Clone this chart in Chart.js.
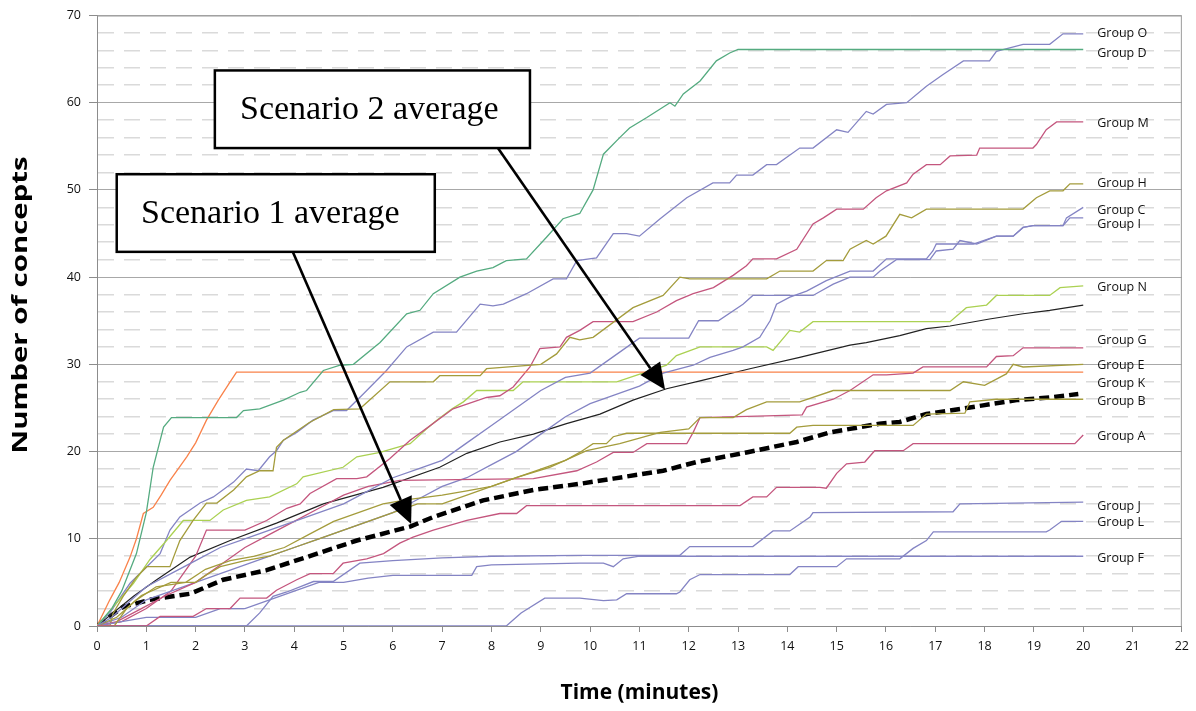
<!DOCTYPE html>
<html><head><meta charset="utf-8">
<script src="https://cdn.jsdelivr.net/npm/chart.js@4.4.1/dist/chart.umd.min.js"></script>
<style>html,body{margin:0;padding:0;background:#fff}</style>
</head><body>
<canvas id="c" width="1196" height="711" style="display:block;width:1196px;height:711px"></canvas>
<script>
// ---- data: [time (minutes), number of concepts] ----
const xTicks = [0,1,2,3,4,5,6,7,8,9,10,11,12,13,14,15,16,17,18,19,20,21,22];
const yTicks = [0,10,20,30,40,50,60,70];

const groupA = [[0,0],[1.0,0],[1.28,1.1],[1.95,1.1],[2.22,2],[2.7,2],[2.9,3.2],[3.44,3.2],[3.64,4.1],[4.05,5.3],[4.32,6],[4.79,6],[4.99,7.2],[5.47,7.7],[5.81,8.3],[6.14,9.5],[6.41,10.2],[6.82,11],[7.5,12.1],[8.17,12.9],[8.51,12.9],[8.71,13.8],[13.04,13.8],[13.3,14.8],[13.58,14.8],[13.78,15.9],[14.66,15.9],[14.79,15.8],[15.0,17.5],[15.2,18.6],[15.57,18.8],[15.77,20.1],[16.35,20.1],[16.55,20.9],[19.83,20.9],[20,21.9]];
const groupB = [[0,0],[0.35,0],[0.6,2],[0.9,3.5],[1.5,5],[2.0,5],[2.2,5.8],[2.5,6.8],[3,7.5],[3.5,8],[4,9],[4.5,10],[5,11],[5.5,12],[6,13],[6.5,14],[7,14],[7.5,15],[8,16],[8.5,17],[9,18],[9.5,19],[9.79,19.9],[10.06,20.9],[10.33,20.9],[10.47,21.7],[10.74,22.1],[14.05,22.1],[14.19,22.8],[14.52,23],[16.55,23],[16.82,24.3],[17.6,24.4],[17.7,25.7],[18.24,26],[20,26]];
const groupC = [[0,0],[0.3,1],[0.7,3],[1.0,4.5],[1.5,6],[2.0,7.5],[2.5,9],[3.0,10],[3.5,11],[4.0,12],[4.5,13],[5.0,14],[5.5,15.5],[6.0,17],[6.5,18],[7.0,19],[7.5,21],[8.0,23],[8.5,25],[9.0,27],[9.5,28.5],[10,29],[10.5,31],[11.0,33],[12.0,33],[12.2,35],[12.6,35],[13.1,36.9],[13.3,37.9],[14.52,37.9],[14.93,39.2],[15.27,40],[15.74,40],[15.88,40.7],[16.21,42],[16.89,42],[17.02,43],[17.36,43.2],[17.5,44.2],[17.84,43.8],[18.24,44.7],[18.58,44.7],[18.78,45.7],[18.98,45.9],[19.59,45.9],[19.66,46.8],[20,48]];
const groupD = [[0,0],[0.3,2],[0.5,4],[0.8,8.3],[1.0,13],[1.14,18.2],[1.35,22.8],[1.51,23.9],[2.83,23.9],[2.97,24.7],[3.3,24.9],[3.78,25.9],[4.12,26.8],[4.25,27],[4.59,29.3],[4.93,29.9],[5.2,30],[5.74,32.5],[6.28,35.8],[6.55,36.2],[6.82,38.1],[7.36,40],[7.7,40.7],[8.03,41.1],[8.3,41.9],[8.71,42.1],[9.12,44.6],[9.45,46.7],[9.79,47.3],[10.06,50],[10.27,54.1],[10.6,56],[10.8,57.1],[11.15,58.3],[11.62,60],[11.72,59.6],[11.89,61],[12.23,62.5],[12.56,64.8],[12.83,65.7],[13.0,66.1],[20,66.1]];
const groupE = [[0,0],[0.4,1],[0.8,3],[1.2,4.5],[1.8,5],[2.2,6.5],[2.7,7.5],[3.2,8],[3.8,9],[4.3,10.5],[4.8,12],[5.3,13],[5.8,14],[6.3,14.5],[7,15],[7.5,15.5],[8,16],[8.5,17],[9.18,18.2],[9.93,20.1],[10.6,20.9],[11.42,22.2],[12.0,22.6],[12.23,23.9],[12.9,23.9],[13.17,24.8],[13.58,25.7],[14.25,25.7],[14.93,27],[17.3,27],[17.57,28],[18.0,27.6],[18.44,28.9],[18.58,30],[18.78,29.7],[20,30]];
const groupF = [[0,0],[0.5,0.5],[1,1],[2,1],[2.5,2],[3,2],[3.5,3],[4,4],[4.5,5],[5,5],[5.5,5.5],[6,5.8],[7.6,5.8],[7.7,6.8],[8,7],[9.79,7.2],[10.27,7.2],[10.47,6.8],[10.67,7.7],[11,8],[20,8]];
const groupG = [[0,0],[0.4,0.5],[0.9,2],[1.4,3.5],[2,5],[2.5,7],[3,9],[3.5,10.5],[4,12],[4.5,13.5],[5,15],[5.5,16],[6.14,16.7],[8.85,16.9],[9.73,17.8],[10.13,18.8],[10.47,19.9],[10.87,19.9],[11.15,20.9],[11.96,20.9],[12.09,22.2],[12.23,23.9],[13.58,24.1],[14.3,24.2],[14.39,25.1],[14.93,26],[15.27,27],[15.74,28.8],[16.01,28.8],[16.55,29],[16.75,29.7],[18.04,29.7],[18.24,30.9],[18.58,31],[18.78,31.9],[20,31.9]];
const groupH = [[0,0],[0.26,0],[0.33,1.5],[0.53,3.4],[0.8,5.6],[1.01,6.8],[1.48,6.8],[1.68,9.8],[1.95,12.1],[2.22,14.1],[2.43,14.1],[2.77,15.6],[3.03,17.1],[3.3,17.8],[3.57,17.8],[3.64,20.5],[3.78,21.3],[4.3,23.3],[4.8,24.8],[5.33,24.9],[5.94,28],[6.82,28],[6.95,28.7],[7.77,28.7],[7.9,29.5],[9.0,30],[9.32,31.2],[9.59,33.1],[9.79,32.8],[10.06,33.1],[10.87,36.5],[11.48,37.9],[11.82,40],[12.02,39.8],[13.58,39.8],[13.85,40.7],[14.52,40.7],[14.79,41.9],[15.13,41.9],[15.27,43.2],[15.6,44.2],[15.74,43.8],[16.0,44.7],[16.28,47.2],[16.52,46.8],[16.82,47.8],[18.78,47.8],[19.05,49.1],[19.32,49.9],[19.59,49.9],[19.73,50.7],[20,50.7]];
const groupI = [[0,0],[0.5,1],[1,3],[1.5,4],[2,5],[2.5,6],[3,7],[3.5,8],[4,9],[4.5,10],[5,11],[5.5,12],[6,13],[6.5,14.5],[7,16],[7.5,17],[8,18.5],[8.5,20],[9,22],[9.5,24],[10,25.5],[10.5,26.5],[11,27.5],[11.48,29],[12.09,29.9],[12.43,30.8],[12.9,31.6],[13.1,32],[13.44,33.1],[13.65,35],[13.78,36.9],[14.05,37.7],[14.39,38.4],[14.79,39.6],[15.27,40.7],[15.74,40.7],[16.01,42.1],[16.82,42.1],[16.95,43],[17.02,43.8],[17.77,43.8],[18.24,44.7],[18.58,44.7],[18.78,45.7],[18.98,45.9],[19.59,45.9],[19.73,46.8],[20,46.8]];
const groupJ = [[0,0],[3.03,0],[3.3,1.5],[3.57,3.4],[3.85,3.9],[4.39,5.1],[4.79,5.1],[5.33,7.2],[6,7.5],[7,7.8],[8,8],[9.79,8.1],[11.82,8.1],[12.02,9.1],[13.3,9.1],[13.71,10.9],[14.05,10.9],[14.46,12.5],[14.52,13],[17.36,13.1],[17.5,14],[20,14.2]];
const groupK = [[0,0],[0.26,3],[0.45,5],[0.67,7.9],[0.8,10],[0.94,12.9],[1.14,13.6],[1.3,15],[1.48,16.7],[1.82,19.4],[2.0,21],[2.22,23.6],[2.46,25.9],[2.7,28],[2.83,29.1],[20,29.1]];
const groupL = [[0,0],[8.3,0],[8.6,1.5],[9.08,3.2],[9.79,3.2],[10.27,2.9],[10.54,3],[10.74,3.7],[11.75,3.7],[11.82,3.9],[12.02,5.3],[12.23,5.9],[14.05,5.9],[14.22,6.8],[15.0,6.8],[15.2,7.7],[16.28,7.7],[16.55,8.9],[16.82,9.8],[16.96,10.8],[19.25,10.8],[19.32,11],[19.56,12],[20,12]];
const groupM = [[0,0],[0.5,0.5],[1,2],[1.5,4],[2.0,8],[2.22,11],[3.0,11],[3.44,12.1],[3.85,13.5],[4.12,14],[4.32,15.2],[4.86,16.9],[5.27,16.9],[5.47,17.1],[5.94,19.2],[6.35,21.3],[6.62,22.4],[7.22,24.9],[7.9,26.2],[8.17,26.4],[8.44,27.4],[8.78,29.7],[8.98,31.8],[9.39,32],[9.52,33.1],[9.79,33.9],[10.06,34.9],[10.87,34.9],[11.35,36],[11.75,37.3],[12.09,38.1],[12.5,38.8],[12.9,40.2],[13.17,41.3],[13.3,42.1],[13.78,42.1],[14.19,43.2],[14.52,46.1],[14.73,46.8],[15.0,47.8],[15.54,47.8],[15.8,49.1],[16.01,49.9],[16.42,50.8],[16.55,51.8],[16.82,52.9],[17.1,52.9],[17.3,53.9],[17.84,54],[17.9,54.8],[18.98,54.8],[19.05,55.2],[19.25,56.9],[19.46,57.8],[20,57.8]];
const groupN = [[0,0],[0.33,2.2],[0.74,4.9],[1.07,7.6],[1.41,9.8],[1.75,12.1],[2.29,12.1],[2.56,13.3],[3.03,14.4],[3.5,14.8],[4.05,16.3],[4.18,17.1],[4.99,18.2],[5.27,19.4],[5.74,19.9],[6.35,20.9],[6.68,22.6],[6.89,23.6],[7.2,24.9],[7.43,25.7],[7.7,27],[8.44,27],[8.64,28],[10.54,28],[11.55,29.9],[11.75,31],[12.23,32],[13.58,32],[13.71,31.6],[14.05,33.9],[14.25,33.7],[14.52,34.9],[17.3,34.9],[17.63,36.5],[18.04,36.8],[18.24,37.9],[19.32,37.9],[19.53,38.8],[20,39]];
const groupO = [[0,0],[0.26,1.5],[0.67,4.9],[1.01,6.8],[1.28,8.3],[1.48,11],[1.68,12.5],[2.09,14.1],[2.36,14.8],[2.77,16.5],[3.03,18],[3.27,17.8],[3.5,19.4],[3.64,20.1],[3.78,21.3],[4.05,22.2],[4.38,23.6],[4.79,24.7],[5.06,24.7],[5.4,26.6],[5.87,29.3],[6.28,32],[6.82,33.7],[7.29,33.7],[7.77,36.9],[8.03,36.7],[8.24,36.9],[8.71,38.1],[9.25,39.8],[9.52,39.8],[9.73,41.9],[10.13,42.2],[10.47,45],[10.74,45],[11.0,44.7],[11.42,46.7],[11.96,49.1],[12.49,50.8],[12.83,50.8],[12.97,51.7],[13.3,51.7],[13.58,52.9],[13.78,52.9],[14.25,54.8],[14.52,54.8],[15.0,56.9],[15.23,56.6],[15.6,59],[15.74,58.7],[16.01,59.8],[16.42,60],[16.82,61.9],[17.15,63.2],[17.57,64.8],[18.1,64.8],[18.24,65.9],[18.78,66.7],[19.32,66.7],[19.59,67.9],[20,67.9]];
const scenario2Avg = [[0,0],[0.74,3.4],[1.21,5.3],[1.89,7.9],[2.7,9.8],[3.64,11.8],[4.59,14],[5.8,15.9],[6.95,18.2],[7.5,19.8],[8.17,21.1],[8.85,22],[9.52,23.2],[10.2,24.3],[10.87,25.9],[11.55,27.2],[12.23,28.1],[13.24,29.5],[14.25,30.8],[15.27,32.2],[15.6,32.5],[16.28,33.3],[16.82,34.1],[17.3,34.4],[18.1,35.2],[18.78,35.8],[19.32,36.2],[20,36.8]];
const scenario1Avg = [[0,0],[0.53,2.2],[1.07,3],[1.89,3.7],[2.56,5.3],[3.44,6.4],[4.25,7.9],[5.27,9.8],[6.35,11.4],[6.82,12.5],[7.83,14.4],[8.85,15.6],[9.79,16.3],[10.47,16.9],[11.48,17.8],[12.16,18.8],[13.17,19.9],[14.19,21.1],[14.86,22.2],[15.27,22.6],[15.87,23.2],[16.28,23.4],[16.82,24.3],[17.3,24.7],[17.97,25.3],[18.65,25.9],[19.32,26.2],[19.9,26.6]];

const groupLabels = ['Group A','Group B','Group C','Group D','Group E','Group F','Group G','Group H','Group I','Group J','Group K','Group L','Group M','Group N','Group O'];
const groupSeries = [groupA,groupB,groupC,groupD,groupE,groupF,groupG,groupH,groupI,groupJ,groupK,groupL,groupM,groupN,groupO];
// label text anchor (value units) at the right end
const groupLabelAt = [21.7,25.7,47.6,65.6,29.9,7.8,32.7,50.7,46.1,13.7,27.8,11.9,57.6,38.8,68.0];

// ---- styles ----
const BLUE='#8484c4', PINK='#c4567e', OLIVE='#a49c3c', LIME='#abd152', TEAL='#55ab80', ORANGE='#f9824a';
const groupColors = [PINK,OLIVE,BLUE,TEAL,OLIVE,BLUE,PINK,OLIVE,BLUE,BLUE,ORANGE,BLUE,PINK,LIME,BLUE];

const datasets = groupSeries.map((s,i)=>({
  label: groupLabels[i],
  data: s.map(p=>({x:p[0],y:p[1]})),
  borderColor: groupColors[i], borderWidth: 1.3, pointRadius: 0, tension: 0, fill:false
}));
datasets.push({label:'Scenario 2 average', data: scenario2Avg.map(p=>({x:p[0],y:p[1]})), borderColor:'#222', borderWidth:1.2, pointRadius:0, tension:0});
datasets.push({label:'Scenario 1 average', data: scenario1Avg.map(p=>({x:p[0],y:p[1]})), borderColor:'#000', borderWidth:4.5, borderDash:[10,5], pointRadius:0, tension:0});

const annotations = {
  boxes: [
    {text:'Scenario 2 average', x0:2.39, x1:8.78, y0:63.7, y1:54.8, tx:240},
    {text:'Scenario 1 average', x0:0.40, x1:6.85, y0:51.8, y1:42.9, tx:141}
  ],
  arrows: [
    {from:[3.97,42.9], to:[6.37,11.7]},
    {from:[8.13,54.8], to:[11.52,27.1]}
  ]
};

const overlay = {
  id:'overlay',
  beforeDatasetsDraw(chart){
    const {ctx, chartArea:a} = chart;
    ctx.save();
    ctx.strokeStyle='#9a9a9a'; ctx.lineWidth=1;
    ctx.beginPath();
    ctx.moveTo(a.left, a.top+0.5); ctx.lineTo(a.right-0.5, a.top+0.5); ctx.lineTo(a.right-0.5, a.bottom);
    ctx.stroke();
    ctx.restore();
  },
  afterDatasetsDraw(chart){
    const {ctx, scales:{x,y}, chartArea:a} = chart;
    ctx.save();
    // group labels
    ctx.font = "12.5px 'Open Sans'";
    ctx.fillStyle = '#111';
    ctx.textBaseline = 'middle';
    ctx.textAlign = 'left';
    groupLabels.forEach((t,i)=>{
      ctx.fillText(t, x.getPixelForValue(20)+14, y.getPixelForValue(groupLabelAt[i]));
    });
    // arrows
    annotations.arrows.forEach(ar=>{
      const x0=x.getPixelForValue(ar.from[0]), y0=y.getPixelForValue(ar.from[1]);
      const x1=x.getPixelForValue(ar.to[0]), y1=y.getPixelForValue(ar.to[1]);
      const ang=Math.atan2(y1-y0,x1-x0), hl=26, hw=12;
      const bx=x1-hl*Math.cos(ang), by=y1-hl*Math.sin(ang);
      ctx.strokeStyle='#000'; ctx.lineWidth=2.6;
      ctx.beginPath(); ctx.moveTo(x0,y0); ctx.lineTo(bx,by); ctx.stroke();
      ctx.fillStyle='#000';
      ctx.beginPath(); ctx.moveTo(x1,y1);
      ctx.lineTo(bx+hw*Math.sin(ang), by-hw*Math.cos(ang));
      ctx.lineTo(bx-hw*Math.sin(ang), by+hw*Math.cos(ang));
      ctx.closePath(); ctx.fill();
    });
    // boxes
    annotations.boxes.forEach(b=>{
      const l=x.getPixelForValue(b.x0), r=x.getPixelForValue(b.x1);
      const t=y.getPixelForValue(b.y0), bt=y.getPixelForValue(b.y1);
      ctx.fillStyle='#fff'; ctx.fillRect(l,t,r-l,bt-t);
      ctx.strokeStyle='#000'; ctx.lineWidth=2.5; ctx.strokeRect(l,t,r-l,bt-t);
      ctx.fillStyle='#000'; ctx.font="34px 'Liberation Serif'";
      ctx.textAlign='left'; ctx.textBaseline='alphabetic';
      ctx.fillText(b.text, b.tx, t+49);
    });
    // y-axis title (stretched along its length like the original)
    ctx.save();
    ctx.translate(21, 305);
    ctx.rotate(-Math.PI/2);
    ctx.scale(1.4, 1);
    ctx.font = "bold 21px 'Open Sans'";
    ctx.fillStyle = '#000';
    ctx.textAlign = 'center'; ctx.textBaseline = 'middle';
    ctx.fillText('Number of concepts', 0, 0);
    ctx.restore();
    ctx.restore();
  }
};

new Chart(document.getElementById('c'), {
  type:'line',
  data:{datasets},
  options:{
    responsive:false, animation:false, devicePixelRatio:1,
    layout:{padding:{left:0,right:14,top:14,bottom:0}},
    plugins:{legend:{display:false}, tooltip:{enabled:false}},
    scales:{
      x:{type:'linear', min:0, max:22,
        afterBuildTicks:(s)=>{ s.ticks = xTicks.map(v=>({value:v})); },
        afterFit:(s)=>{ s.height = 85; },
        ticks:{autoSkip:false, maxRotation:0, padding:7, color:'#111', font:{family:'Open Sans', size:12.5}},
        grid:{drawOnChartArea:false, drawTicks:true, tickLength:6, color:'#8c8c8c'},
        border:{color:'#8c8c8c', width:1},
        title:{display:true, text:'Time (minutes)', color:'#000', font:{family:'Open Sans', size:21, weight:'bold'}, padding:{bottom:5}}
      },
      y:{type:'linear', min:0, max:70,
        afterBuildTicks:(s)=>{ const t=[]; for(let v=0; v<=70; v+=2) t.push({value:v}); s.ticks=t; },
        afterFit:(s)=>{ s.width = 97; },
        ticks:{autoSkip:false, padding:8, color:'#111', font:{family:'Open Sans', size:12.5},
          callback:(v)=> yTicks.includes(v) ? String(v) : ''},
        grid:{
          color:(c)=> (c.tick && c.tick.value%10===0) ? '#a8a8a8' : '#dadada',
          lineWidth:(c)=> (c.tick && c.tick.value%10===0) ? 1 : 1.6,
          tickColor:(c)=> (c.tick && c.tick.value%10===0) ? '#8c8c8c' : 'rgba(0,0,0,0)',
          tickLength:8, drawTicks:true
        },
        border:{color:'#8c8c8c', width:1, dash:(c)=> (c.tick && c.tick.value%10!==0) ? [16,10] : []},
        title:{display:false}
      }
    }
  },
  plugins:[overlay]
});
</script>
</body></html>
